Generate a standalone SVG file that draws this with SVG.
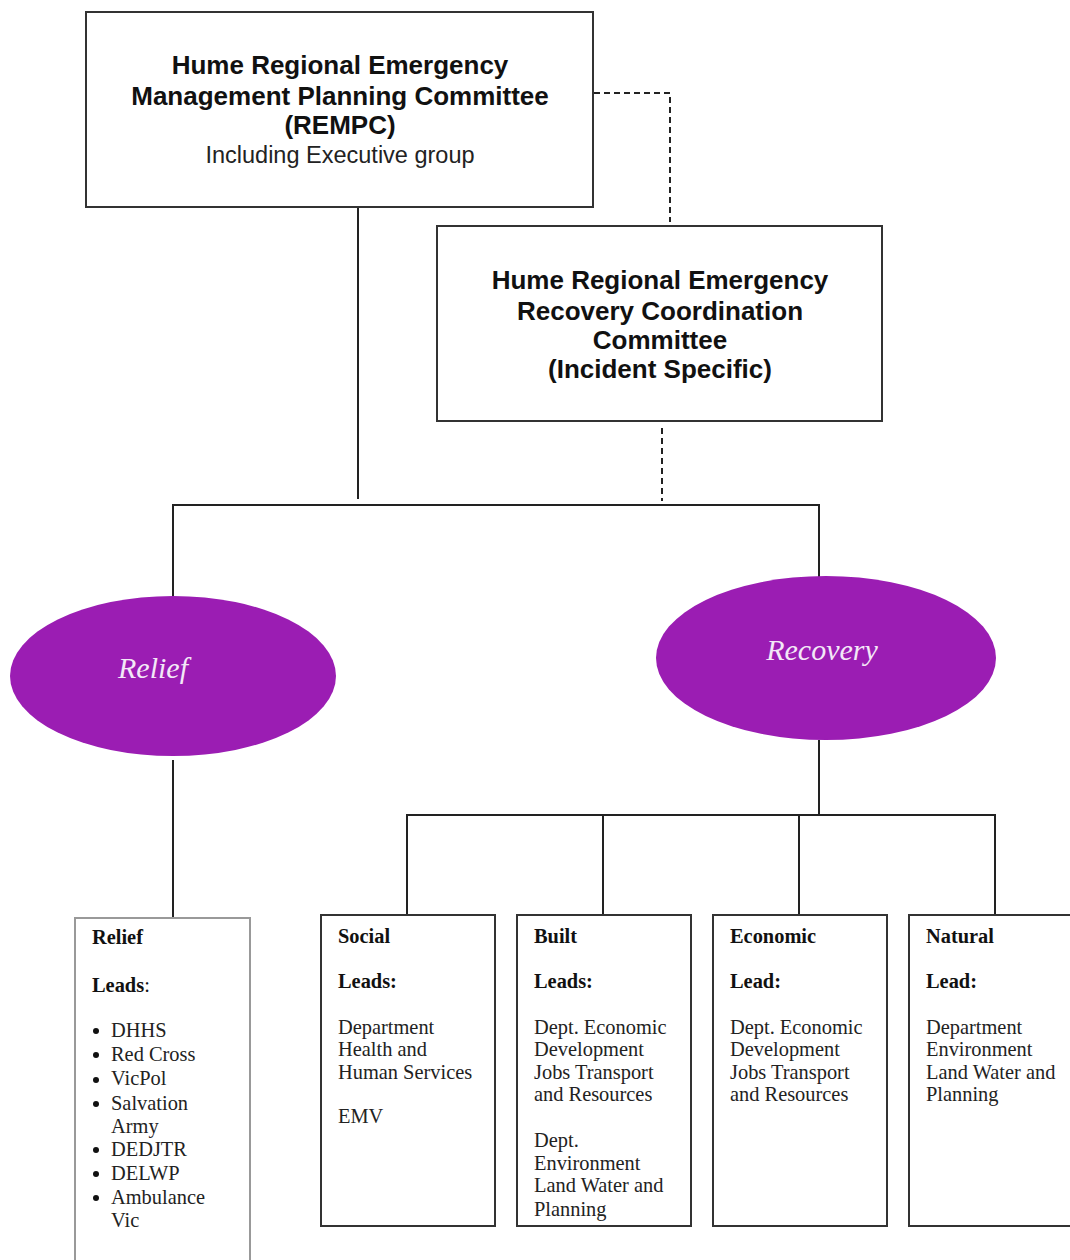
<svg xmlns="http://www.w3.org/2000/svg" width="1070" height="1260" viewBox="0 0 1070 1260">
<style>
.box{fill:#fff;stroke:#333;stroke-width:2}
.rbox{fill:#fff;stroke:#999;stroke-width:2}
.ln{stroke:#222;stroke-width:2;fill:none}
.dash{stroke:#222;stroke-width:2;fill:none;stroke-dasharray:6 4}
.hb{font-family:"Liberation Sans",Arial,sans-serif;font-weight:bold;font-size:26px;fill:#111;text-anchor:middle}
.hr{font-family:"Liberation Sans",Arial,sans-serif;font-size:23.5px;fill:#222;text-anchor:middle}
.ell{fill:#9b1db3}
.et{font-family:"Liberation Serif","Times New Roman",serif;font-style:italic;font-size:30px;fill:#f3e8f7;text-anchor:middle}
.t{font-family:"Liberation Serif","Times New Roman",serif;font-size:20.4px;fill:#222}
.tb{font-family:"Liberation Serif","Times New Roman",serif;font-size:20.4px;font-weight:bold;fill:#111}
</style>
<g id="connectors">
<path class="dash" d="M594 93 H670 V222"/>
<path class="ln" d="M358 207 V499"/>
<path class="dash" d="M662 428 V501"/>
<path class="ln" d="M173 600 V505 H819 V583"/>
<path class="ln" d="M173 760 V918"/>
<path class="ln" d="M819 740 V815"/>
<path class="ln" d="M407 915 V815 H995 V915"/>
<path class="ln" d="M603 815 V915"/>
<path class="ln" d="M799 815 V915"/>
</g>
<g id="rempc">
<rect class="box" x="86" y="12" width="507" height="195"/>
<text class="hb" x="340" y="74">Hume Regional Emergency</text>
<text class="hb" x="340" y="105">Management Planning Committee</text>
<text class="hb" x="340" y="134">(REMPC)</text>
<text class="hr" x="340" y="163">Including Executive group</text>
</g>
<g id="recovery-committee">
<rect class="box" x="437" y="226" width="445" height="195"/>
<text class="hb" x="660" y="289">Hume Regional Emergency</text>
<text class="hb" x="660" y="320">Recovery Coordination</text>
<text class="hb" x="660" y="349">Committee</text>
<text class="hb" x="660" y="378">(Incident Specific)</text>
</g>
<g id="relief-ellipse">
<ellipse class="ell" cx="173" cy="676" rx="163" ry="80"/>
<text class="et" x="153" y="678">Relief</text>
</g>
<g id="recovery-ellipse">
<ellipse class="ell" cx="826" cy="658" rx="170" ry="82"/>
<text class="et" x="822" y="660">Recovery</text>
</g>
<g id="relief-box">
<rect class="rbox" x="75" y="918" width="175" height="360"/>
<text class="tb" x="92" y="944">Relief</text>
<text class="tb" x="92" y="992">Leads<tspan font-weight="normal">:</tspan></text>
<circle cx="96" cy="1031" r="3" fill="#111"/><text class="t" x="111" y="1037">DHHS</text>
<circle cx="96" cy="1055" r="3" fill="#111"/><text class="t" x="111" y="1061">Red Cross</text>
<circle cx="96" cy="1080" r="3" fill="#111"/><text class="t" x="111" y="1085">VicPol</text>
<circle cx="96" cy="1104" r="3" fill="#111"/><text class="t" x="111" y="1110">Salvation</text>
<text class="t" x="111" y="1133">Army</text>
<circle cx="96" cy="1150" r="3" fill="#111"/><text class="t" x="111" y="1156">DEDJTR</text>
<circle cx="96" cy="1174" r="3" fill="#111"/><text class="t" x="111" y="1180">DELWP</text>
<circle cx="96" cy="1198" r="3" fill="#111"/><text class="t" x="111" y="1204">Ambulance</text>
<text class="t" x="111" y="1227">Vic</text>
</g>
<g id="social">
<rect class="box" x="321" y="915" width="174" height="311"/>
<text class="tb" x="338" y="943">Social</text>
<text class="tb" x="338" y="988">Leads:</text>
<text class="t" x="338" y="1034">Department</text>
<text class="t" x="338" y="1056">Health and</text>
<text class="t" x="338" y="1079">Human Services</text>
<text class="t" x="338" y="1123">EMV</text>
</g>
<g id="built">
<rect class="box" x="517" y="915" width="174" height="311"/>
<text class="tb" x="534" y="943">Built</text>
<text class="tb" x="534" y="988">Leads:</text>
<text class="t" x="534" y="1034">Dept. Economic</text>
<text class="t" x="534" y="1056">Development</text>
<text class="t" x="534" y="1079">Jobs Transport</text>
<text class="t" x="534" y="1101">and Resources</text>
<text class="t" x="534" y="1147">Dept.</text>
<text class="t" x="534" y="1170">Environment</text>
<text class="t" x="534" y="1192">Land Water and</text>
<text class="t" x="534" y="1216">Planning</text>
</g>
<g id="economic">
<rect class="box" x="713" y="915" width="174" height="311"/>
<text class="tb" x="730" y="943">Economic</text>
<text class="tb" x="730" y="988">Lead:</text>
<text class="t" x="730" y="1034">Dept. Economic</text>
<text class="t" x="730" y="1056">Development</text>
<text class="t" x="730" y="1079">Jobs Transport</text>
<text class="t" x="730" y="1101">and Resources</text>
</g>
<g id="natural">
<rect class="box" x="909" y="915" width="174" height="311"/>
<text class="tb" x="926" y="943">Natural</text>
<text class="tb" x="926" y="988">Lead:</text>
<text class="t" x="926" y="1034">Department</text>
<text class="t" x="926" y="1056">Environment</text>
<text class="t" x="926" y="1079">Land Water and</text>
<text class="t" x="926" y="1101">Planning</text>
</g>
</svg>
